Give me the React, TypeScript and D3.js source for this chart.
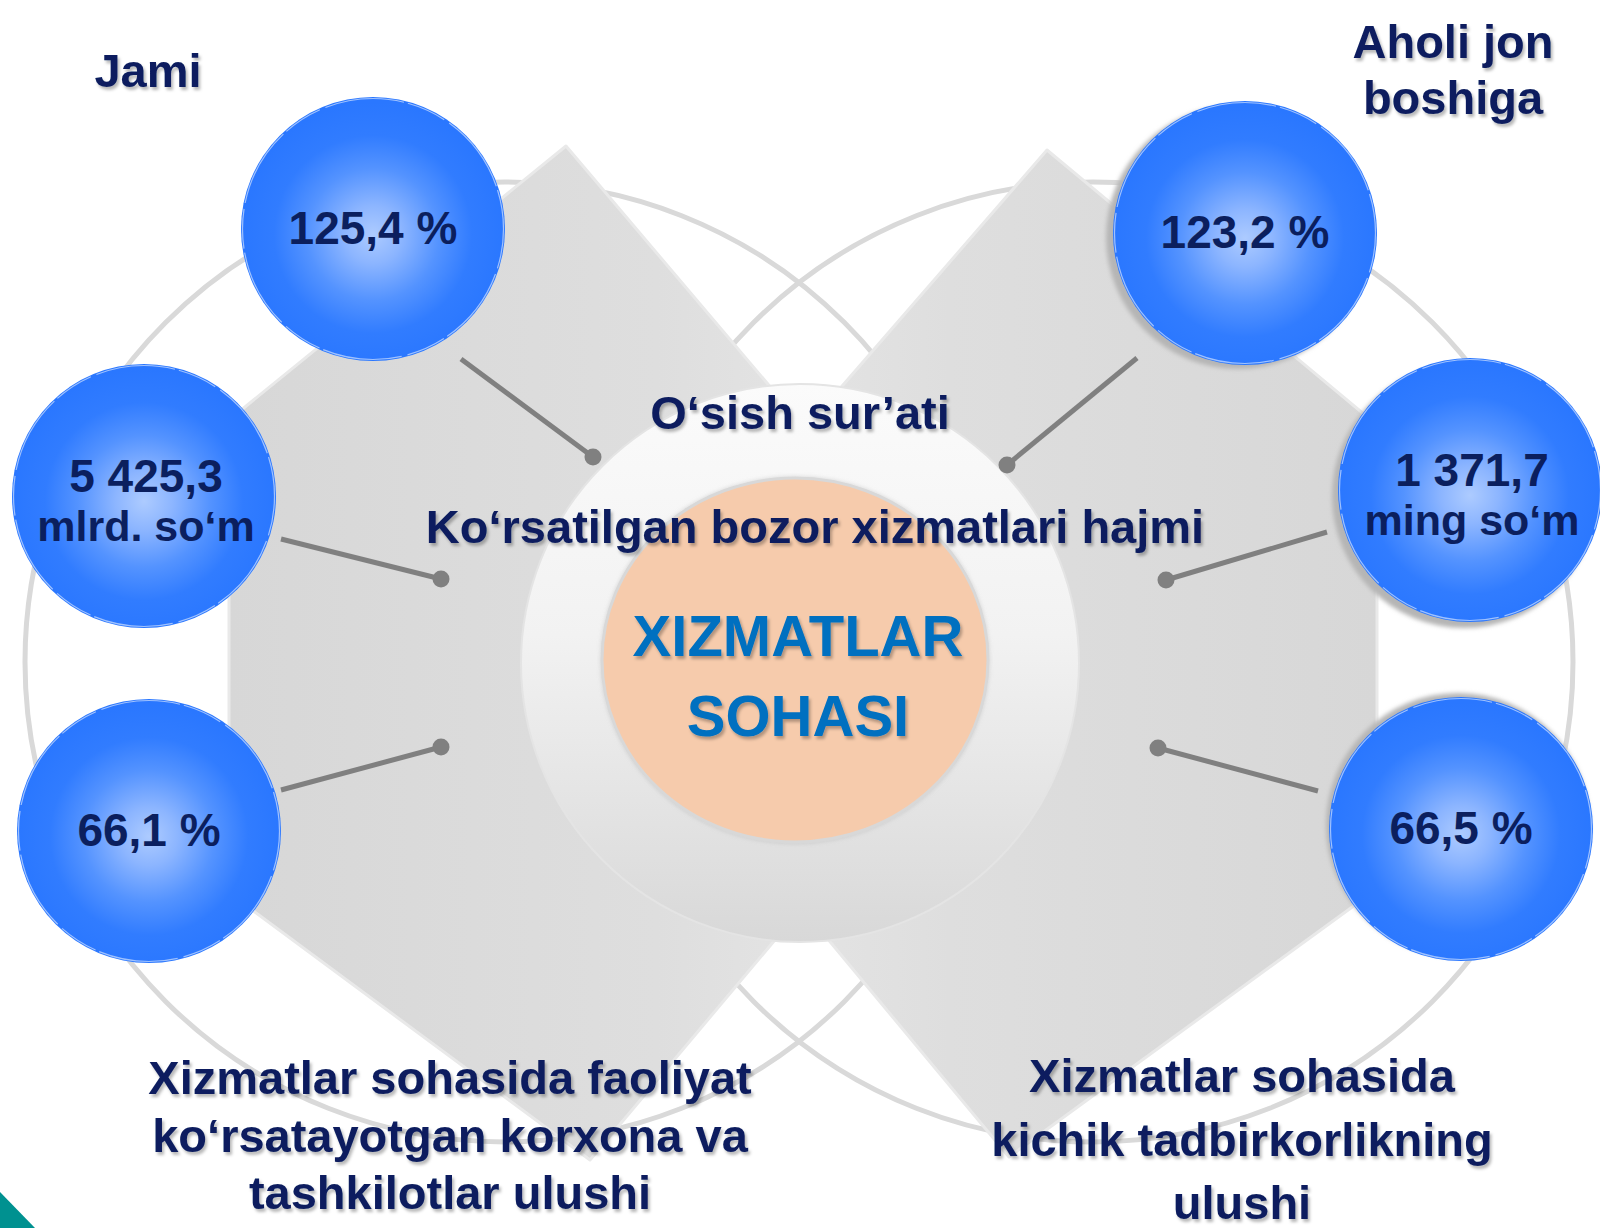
import React from "react";
import * as d3 from "d3";

// ---------- data ----------
const groupTitles = ["Jami", "Aholi jon|boshiga"];
const indicatorTitles = ["O‘sish sur’ati", "Ko‘rsatilgan bozor xizmatlari hajmi"];
const centerTitle = ["XIZMATLAR", "SOHASI"];
const totalValues = [125.4, 5425.3, 66.1];
const totalUnits = ["%", "mlrd. so‘m", "%"];
const perCapitaValues = [123.2, 1371.7, 66.5];
const perCapitaUnits = ["%", "ming so‘m", "%"];
const leftShareLabel = ["Xizmatlar sohasida faoliyat", "ko‘rsatayotgan korxona va", "tashkilotlar ulushi"];
const rightShareLabel = ["Xizmatlar sohasida", "kichik tadbirkorlikning", "ulushi"];

// ---------- layout ----------
const W = 1600;
const H = 1228;
const BUBBLE_R = 132;
const leftBubbles = [
  { x: 373, y: 229 },
  { x: 144, y: 496 },
  { x: 149, y: 831 },
];
const rightBubbles = [
  { x: 1245, y: 233 },
  { x: 1470, y: 490 },
  { x: 1461, y: 829 },
];
const rightShadow = [
  { dx: -7, dy: 4 },
  { dx: -6, dy: 6 },
  { dx: -3, dy: -4 },
];
const leftLinks = [
  [461, 359, 593, 457],
  [281, 539, 441, 579],
  [281, 790, 441, 747],
];
const rightLinks = [
  [1137, 358, 1007, 465],
  [1327, 532, 1166, 580],
  [1318, 791, 1158, 748],
];
const leftShape: [number, number][] = [
  [566, 146],
  [229, 420],
  [229, 893],
  [590, 1160],
  [1006, 665],
];
const rightShape: [number, number][] = [
  [1047, 150],
  [1377, 425],
  [1377, 889],
  [1009, 1157],
  [600, 665],
];
const rings = [
  { x: 505, y: 662 },
  { x: 1093, y: 662 },
];
const RING_R = 480;

const NAVY = "#0b1f5e";
const FONT = "'Liberation Sans', Arial, Helvetica, sans-serif";

const locale = d3.formatLocale({
  decimal: ",",
  thousands: " ",
  grouping: [3],
  currency: ["", ""],
});
const fmt = locale.format(",.1f");

const poly = d3.line<[number, number]>().curve(d3.curveLinearClosed);

function Bubble({
  cx,
  cy,
  value,
  unit,
  shadow,
}: {
  cx: number;
  cy: number;
  value: number;
  unit: string;
  shadow?: { dx: number; dy: number };
}) {
  const isPct = unit === "%";
  return (
    <g>
      {shadow && (
        <circle
          cx={cx + shadow.dx}
          cy={cy + shadow.dy}
          r={BUBBLE_R}
          fill="#b5b5b5"
          filter="url(#blurS)"
        />
      )}
      <circle cx={cx} cy={cy} r={BUBBLE_R} fill="url(#bubbleGrad)" />
      <circle
        cx={cx}
        cy={cy}
        r={BUBBLE_R - 1.5}
        fill="none"
        stroke="#ffffff"
        strokeOpacity={0.55}
        strokeWidth={1.2}
        strokeDasharray="40 6 80 4"
      />
      {isPct ? (
        <text
          x={cx}
          y={cy + 15}
          textAnchor="middle"
          fontSize={46}
          fontWeight="bold"
          fill={NAVY}
          fontFamily={FONT}
        >
          {`${fmt(value)} %`}
        </text>
      ) : (
        <text textAnchor="middle" fontWeight="bold" fill={NAVY} fontFamily={FONT}>
          <tspan x={cx + 2} y={cy - 4} fontSize={46}>
            {fmt(value)}
          </tspan>
          <tspan x={cx + 2} y={cy + 45} fontSize={43}>
            {unit}
          </tspan>
        </text>
      )}
    </g>
  );
}

function Link({ l }: { l: number[] }) {
  return (
    <g>
      <line x1={l[0]} y1={l[1]} x2={l[2]} y2={l[3]} stroke="#808080" strokeWidth={5} />
      <circle cx={l[2]} cy={l[3]} r={8.5} fill="#808080" />
    </g>
  );
}

export default function App() {
  const txt = {
    fontFamily: FONT,
    fontWeight: "bold" as const,
    fill: NAVY,
    fontSize: 47,
    textAnchor: "middle" as const,
    filter: "url(#tshadow)",
  };
  const ahoLines = groupTitles[1].split("|");
  return (
    <svg
      width={W}
      height={H}
      viewBox={`0 0 ${W} ${H}`}
      style={{ position: "absolute", left: 0, top: 0, background: "#ffffff" }}
    >
      <defs>
        <radialGradient id="bubbleGrad" cx="50%" cy="52%" r="50%">
          <stop offset="0%" stopColor="#adcbff" />
          <stop offset="22%" stopColor="#8cb5ff" />
          <stop offset="50%" stopColor="#5493ff" />
          <stop offset="75%" stopColor="#317cff" />
          <stop offset="100%" stopColor="#2a77ff" />
        </radialGradient>
        <linearGradient id="leftShapeGrad" x1="0" y1="0" x2="1" y2="0">
          <stop offset="0%" stopColor="#d7d7d7" />
          <stop offset="55%" stopColor="#dedede" />
          <stop offset="100%" stopColor="#ebebeb" />
        </linearGradient>
        <linearGradient id="rightShapeGrad" x1="1" y1="0" x2="0" y2="0">
          <stop offset="0%" stopColor="#d7d7d7" />
          <stop offset="55%" stopColor="#dedede" />
          <stop offset="100%" stopColor="#ebebeb" />
        </linearGradient>
        <linearGradient id="whiteGrad" x1="0" y1="0" x2="0" y2="1">
          <stop offset="0%" stopColor="#fbfbfb" />
          <stop offset="45%" stopColor="#f2f2f2" />
          <stop offset="100%" stopColor="#d8d8d8" />
        </linearGradient>
        <filter id="tshadow" x="-10%" y="-30%" width="120%" height="170%">
          <feDropShadow dx="2" dy="3" stdDeviation="1.6" floodColor="#000000" floodOpacity="0.28" />
        </filter>
        <filter id="blurS" x="-20%" y="-20%" width="140%" height="140%">
          <feGaussianBlur stdDeviation="2" />
        </filter>
        <filter id="softEdge" x="-10%" y="-10%" width="120%" height="120%">
          <feDropShadow dx="0" dy="0" stdDeviation="2" floodColor="#9a9a9a" floodOpacity="0.35" />
        </filter>
      </defs>

      <rect x={0} y={0} width={W} height={H} fill="#ffffff" />

      {/* rings */}
      {rings.map((r, i) => (
        <circle key={i} cx={r.x} cy={r.y} r={RING_R} fill="none" stroke="#d9d9d9" strokeWidth={5} />
      ))}

      {/* gray shapes */}
      <path d={poly(leftShape) || ""} fill="url(#leftShapeGrad)" stroke="#e9e9e9" strokeWidth={3} strokeLinejoin="round" />
      <path d={poly(rightShape) || ""} fill="url(#rightShapeGrad)" stroke="#e9e9e9" strokeWidth={3} strokeLinejoin="round" />

      {/* center circles */}
      <circle cx={800} cy={663} r={279} fill="url(#whiteGrad)" stroke="#e4e4e4" strokeWidth={2} />
      <ellipse cx={795} cy={660} rx={193} ry={182} fill="#f6cbac" stroke="#d8d8d8" strokeWidth={3} filter="url(#softEdge)" />

      {/* links */}
      {leftLinks.map((l, i) => (
        <Link key={"l" + i} l={l} />
      ))}
      {rightLinks.map((l, i) => (
        <Link key={"r" + i} l={l} />
      ))}

      {/* bubbles */}
      {totalValues.map((v, i) => (
        <Bubble key={"tb" + i} cx={leftBubbles[i].x} cy={leftBubbles[i].y} value={v} unit={totalUnits[i]} />
      ))}
      {perCapitaValues.map((v, i) => (
        <Bubble
          key={"pb" + i}
          cx={rightBubbles[i].x}
          cy={rightBubbles[i].y}
          value={v}
          unit={perCapitaUnits[i]}
          shadow={rightShadow[i]}
        />
      ))}

      {/* titles */}
      <text x={148} y={87} {...txt}>
        {groupTitles[0]}
      </text>
      <text {...txt}>
        <tspan x={1453} y={58}>
          {ahoLines[0]}
        </tspan>
        <tspan x={1453} y={114}>
          {ahoLines[1]}
        </tspan>
      </text>

      <text x={800} y={429} {...txt}>
        {indicatorTitles[0]}
      </text>
      <text x={815} y={543} {...txt}>
        {indicatorTitles[1]}
      </text>

      <text
        textAnchor="middle"
        fontFamily={FONT}
        fontWeight="bold"
        fontSize={58}
        fill="#0070c0"
        filter="url(#tshadow)"
      >
        <tspan x={798} y={656}>
          {centerTitle[0]}
        </tspan>
        <tspan x={798} y={736}>
          {centerTitle[1]}
        </tspan>
      </text>

      <text {...txt}>
        {leftShareLabel.map((s, i) => (
          <tspan key={i} x={450} y={1094 + i * 57.5}>
            {s}
          </tspan>
        ))}
      </text>
      <text {...txt}>
        {rightShareLabel.map((s, i) => (
          <tspan key={i} x={1242} y={1092 + i * 63.5}>
            {s}
          </tspan>
        ))}
      </text>

      {/* corner accent */}
      <path d={poly([[0, 1192], [35, 1228], [0, 1228]]) || ""} fill="#009190" />
    </svg>
  );
}
